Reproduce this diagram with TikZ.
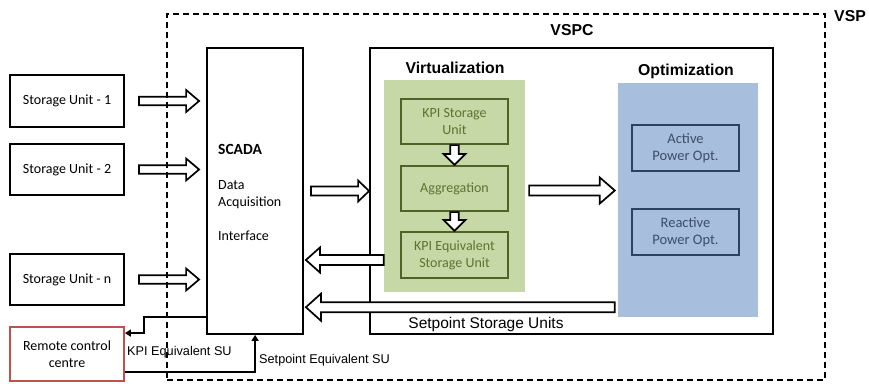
\documentclass[tikz,border=0pt]{standalone}
\usepackage{fontspec}
\setmainfont{Carlito}
\newfontfamily\arialfont{Liberation Sans}
\usetikzlibrary{calc,arrows.meta}
\definecolor{grfill}{HTML}{C6D8A6}
\definecolor{grline}{HTML}{4F6228}
\definecolor{grtext}{HTML}{5B7332}
\definecolor{blfill}{HTML}{A7BFDD}
\definecolor{blline}{HTML}{2B4262}
\definecolor{bltext}{HTML}{3A4D6B}
\definecolor{rcred}{HTML}{C0504D}
\newcommand{\arrpt}[2]{({\x1+(#1)*\n2-(#2)*\n3},{\y1+(#1)*\n3+(#2)*\n2})}
\tikzset{
  cal/.style={font=\fontsize{14}{17}\selectfont},
  box/.style={draw=black, line width=1.8pt, fill=white, cal, align=center, inner sep=0pt},
  grbox/.style={draw=grline, line width=2.2pt, fill=grfill, text=grtext, cal, align=center, inner sep=0pt, minimum width=107, minimum height=45},
  blbox/.style={draw=blline, line width=2.2pt, fill=blfill, text=bltext, font=\fontsize{14.5}{17.5}\selectfont, align=center, inner sep=0pt, minimum width=107, minimum height=46},
  title/.style={font=\arialfont\bfseries\fontsize{15.8}{18}\selectfont, inner sep=0pt, anchor=base},
  lbl/.style={font=\arialfont\fontsize{12.7}{15}\selectfont, inner sep=0pt, anchor=base west},
  thinarrow/.style={draw=black, line width=1.5pt, -{Triangle[length=6pt,width=7pt]}},
  barrow/.style n args={3}{draw=black, fill=white, line width=1.7pt, line join=miter,
    to path={let \p1=(\tikztostart), \p2=(\tikztotarget),
      \n1={veclen(\x2-\x1,\y2-\y1)},
      \n2={(\x2-\x1)/\n1}, \n3={(\y2-\y1)/\n1}
      in \arrpt{0}{-#1} -- \arrpt{\n1-#3}{-#1} -- \arrpt{\n1-#3}{-#2} -- \arrpt{\n1}{0}
      -- \arrpt{\n1-#3}{#2} -- \arrpt{\n1-#3}{#1} -- \arrpt{0}{#1} -- cycle}},
  vspbox/.style={draw=black, line width=1.3pt, dash pattern=on 6pt off 4pt, inner sep=0pt}
}
\begin{document}
\begin{tikzpicture}[x=1pt,y=-1pt]
\useasboundingbox (0,0) rectangle (869,383);
% left units
\node[box, minimum width=114, minimum height=52] (su1) at (67,101) {Storage Unit - 1};
\node[box, minimum width=114, minimum height=51] (su2) at (67,169.5) {Storage Unit - 2};
\node[box, minimum width=114, minimum height=51] (sun) at (67,279.5) {Storage Unit - n};
\node[box, draw=rcred, minimum width=114, minimum height=54] (rc) at (67,354) {Remote control\\centre};
% SCADA
\node[box, minimum width=96, minimum height=286] (scada) at (255,191) {};
\node[cal, font=\bfseries\fontsize{15.5}{18}\selectfont, anchor=base west, inner sep=0pt] (scadat) at (218,154) {SCADA};
\node[cal, anchor=base west, inner sep=0pt, align=left] (daq) at (218,206) {Data\\Acquisition};
\node[cal, anchor=base west, inner sep=0pt] (intf) at (218,240) {Interface};
% VSPC
\node[box, minimum width=403, minimum height=286] (vspc) at (571.5,191) {};
\node[title] (vspct) at (572,35) {VSPC};
% Virtualization
\node[fill=grfill, minimum width=141, minimum height=212, inner sep=0pt] (virt) at (454.5,186) {};
\node[title] (virtt) at (455,73) {Virtualization};
\node[grbox] (kpisu) at (454.5,121.5) {KPI Storage\\Unit};
\node[grbox] (agg) at (454.5,188.5) {Aggregation};
\node[grbox, minimum height=46] (kpieq) at (454.5,255) {KPI Equivalent\\Storage Unit};
% Optimization
\node[fill=blfill, minimum width=140, minimum height=234, inner sep=0pt] (opt) at (688,200) {};
\node[title] (optt) at (686,75) {Optimization};
\node[blbox] (act) at (685.5,148) {Active\\Power Opt.};
\node[blbox] (react) at (685.5,232) {Reactive\\Power Opt.};
% block arrows
\coordinate (a1s) at ($(su1.east)+(14,0)$);
\coordinate (a1e) at ($(scada.west |- su1.east)+(-7,0)$);
\coordinate (a2s) at ($(su2.east)+(14,0)$);
\coordinate (a2e) at ($(scada.west |- su2.east)+(-7,0)$);
\coordinate (a3s) at ($(sun.east)+(14,0)$);
\coordinate (a3e) at ($(scada.west |- sun.east)+(-7,0)$);
\draw[barrow={4.3}{11}{13}] (a1s) to (a1e);
\draw[barrow={4.3}{11}{13}] (a2s) to (a2e);
\draw[barrow={4.3}{11}{13}] (a3s) to (a3e);
\coordinate (b1s) at ($(scada.east)+(7,0)$);
\draw[barrow={4.5}{10.5}{11}] (b1s) to (vspc.west);
\draw[barrow={4.3}{11}{11}] (kpisu.south) to (agg.north);
\draw[barrow={4.3}{11}{11}] (agg.south) to (kpieq.north);
\coordinate (c1s) at ($(agg.east)+(20,2)$);
\coordinate (c1e) at ($(opt.west |- agg.east)+(-3,2)$);
\draw[barrow={5}{13}{15}] (c1s) to (c1e);
\coordinate (d1s) at ($(virt.west |- kpieq.west)+(0,5)$);
\coordinate (d1e) at ($(scada.east |- kpieq.west)+(2,5)$);
\draw[barrow={5}{12.5}{14}] (d1s) to (d1e);
\coordinate (e1s) at ($(opt.south west)+(-3,-10)$);
\coordinate (e1e) at ($(scada.east |- e1s)+(2,0)$);
\draw[barrow={5}{13.5}{15}] (e1s) to (e1e);
\node[font=\arialfont\fontsize{15.5}{18}\selectfont, inner sep=0pt, anchor=base] (spsu) at (486,328) {Setpoint Storage Units};
% thin connectors
\coordinate (k1) at ($(scada.south west)+(0,-18)$);
\coordinate (k2) at ($(k1)+(-62,0)$);
\coordinate (k3) at ($(rc.north east)+(0,7)$);
\draw[thinarrow] (k1) -- (k2) |- (k3);
\node[lbl] (kpil) at (127,355) {KPI Equivalent SU};
\coordinate (s1) at ($(rc.south east)+(0,-10)$);
\coordinate (s2) at ($(scada.south west)+(49,0)$);
\draw[thinarrow] (s1) -| (s2);
\node[lbl] (spl) at (259,363) {Setpoint Equivalent SU};
% VSP dashed
\node[vspbox, minimum width=658, minimum height=366] (vsp) at (496,197) {};
\node[title, anchor=base west] (vspt) at (834,21) {VSP};
\end{tikzpicture}
\end{document}
